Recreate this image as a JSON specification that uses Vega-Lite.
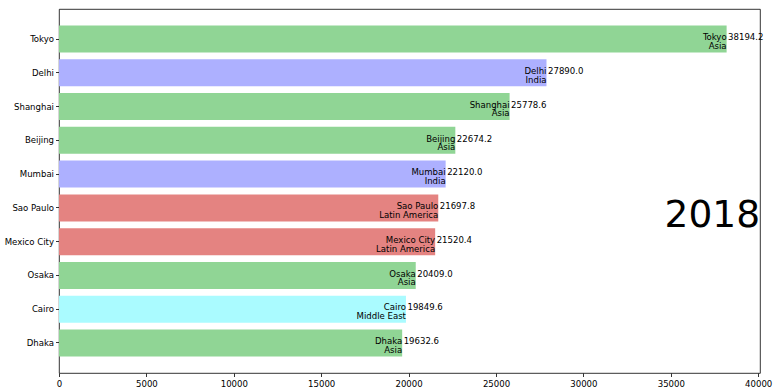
{
  "$schema": "https://vega.github.io/schema/vega-lite/v6.json",
  "autosize": "none",
  "width": 701,
  "height": 364,
  "padding": {"left": 59, "top": 9, "right": 15, "bottom": 18},
  "background": "white",
  "config": {
    "font": "DejaVu Sans Condensed, Liberation Sans Narrow, DejaVu Sans",
    "view": {"stroke": "#000000", "strokeWidth": 0.8},
    "axis": {
      "labelFont": "DejaVu Sans Condensed, Liberation Sans Narrow, DejaVu Sans",
      "labelFontSize": 9.5,
      "labelColor": "#000000",
      "tickColor": "#000000",
      "tickSize": 3.5,
      "tickWidth": 0.8,
      "domainColor": "#000000",
      "domainWidth": 0.8,
      "grid": false,
      "title": null
    },
    "text": {"font": "DejaVu Sans Condensed, Liberation Sans Narrow, DejaVu Sans"}
  },
  "data": {
    "values": [
      {"city": "Tokyo", "group": "Asia", "value": 38194.2},
      {"city": "Delhi", "group": "India", "value": 27890.0},
      {"city": "Shanghai", "group": "Asia", "value": 25778.6},
      {"city": "Beijing", "group": "Asia", "value": 22674.2},
      {"city": "Mumbai", "group": "India", "value": 22120.0},
      {"city": "Sao Paulo", "group": "Latin America", "value": 21697.8},
      {"city": "Mexico City", "group": "Latin America", "value": 21520.4},
      {"city": "Osaka", "group": "Asia", "value": 20409.0},
      {"city": "Cairo", "group": "Middle East", "value": 19849.6},
      {"city": "Dhaka", "group": "Asia", "value": 19632.6}
    ]
  },
  "encoding": {
    "y": {
      "field": "city",
      "type": "nominal",
      "sort": null,
      "scale": {"paddingInner": 0.2, "paddingOuter": 0.49},
      "axis": {"labelPadding": 2, "domain": false}
    },
    "x": {
      "field": "value",
      "type": "quantitative",
      "scale": {"domain": [0, 40104], "nice": false, "zero": true},
      "axis": {"values": [0, 5000, 10000, 15000, 20000, 25000, 30000, 35000, 40000], "format": "d", "labelPadding": 2, "domain": false, "labelFlush": false}
    }
  },
  "layer": [
    {
      "mark": {"type": "bar"},
      "encoding": {
        "color": {
          "field": "group",
          "type": "nominal",
          "scale": {
            "domain": ["Asia", "India", "Latin America", "Middle East"],
            "range": ["#90d595", "#adb0ff", "#e48381", "#aafbff"]
          },
          "legend": null
        }
      }
    },
    {
      "mark": {"type": "text", "align": "right", "baseline": "alphabetic", "dy": 1.3, "fontSize": 9.5, "color": "#000000"},
      "encoding": {"text": {"field": "city"}}
    },
    {
      "mark": {"type": "text", "align": "right", "baseline": "alphabetic", "dy": 9.9, "fontSize": 9.5, "color": "#000000"},
      "encoding": {"text": {"field": "group"}}
    },
    {
      "mark": {"type": "text", "align": "left", "baseline": "alphabetic", "dy": 1.3, "dx": 1.5, "fontSize": 9.5, "color": "#000000"},
      "encoding": {"text": {"field": "value", "type": "quantitative", "format": ".1f"}}
    },
    {
      "data": {"values": [{"year": "2018", "xpos": 40104, "anchor": "Sao Paulo"}]},
      "mark": {"type": "text", "align": "right", "baseline": "alphabetic", "dy": 19.5, "fontSize": 37.5, "font": "DejaVu Sans", "color": "#000000"},
      "encoding": {
        "x": {"field": "xpos", "type": "quantitative"},
        "y": {"field": "anchor", "type": "nominal"},
        "text": {"field": "year"}
      }
    }
  ]
}
